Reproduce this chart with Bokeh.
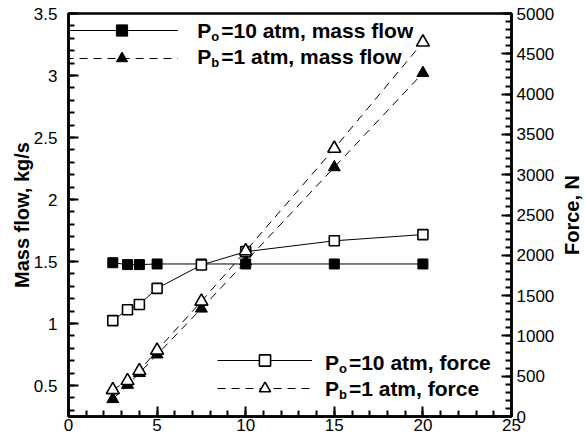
from bokeh.plotting import figure
from bokeh.models import Range1d, LinearAxis, FixedTicker, Legend, LegendItem, Label
from bokeh.layouts import row
from bokeh.embed import file_html
from bokeh.resources import INLINE
import numpy as np

# ---- data ----
ratio = [2.5, 3.33, 4.0, 5.0, 7.5, 10.0, 15.0, 20.0]
mass_po10 = [1.49, 1.475, 1.475, 1.48, 1.48, 1.48, 1.48, 1.48]
mass_pb1 = [0.39, 0.505, 0.60, 0.75, 1.12, 1.50, 2.26, 3.02]
force_po10 = [1190, 1325, 1390, 1590, 1880, 2045, 2180, 2257]
force_pb1 = [330, 443, 567, 820, 1429, 2053, 3325, 4643]

x_ticks = [0, 5, 10, 15, 20, 25]
x_tick_labels = ["0", "5", "10", "15", "20", "25"]
y_ticks = [0.5, 1, 1.5, 2, 2.5, 3, 3.5]
y_tick_labels = ["0.5", "1", "1.5", "2", "2.5", "3", "3.5"]
f_ticks = [0, 500, 1000, 1500, 2000, 2500, 3000, 3500, 4000, 4500, 5000]
f_tick_labels = ["0", "500", "1000", "1500", "2000", "2500", "3000", "3500", "4000", "4500", "5000"]

y_title = "Mass flow, kg/s"
f_title = "Force, N"
legend_top = [("o", "=10 atm, mass flow"), ("b", "=1 atm, mass flow")]
legend_bottom = [("o", "=10 atm, force"), ("b", "=1 atm, force")]

# ---- layout ----
W, H = 557, 439
W2 = 28
BL, BR, BT, BB = 68, 45, 13, 23
FW = W - BL - BR
FH = H - BT - BB
X0, X1 = 0, 25
Y0, Y1 = 0.25, 3.5
F0, F1 = 0, 5000
FONT = "Liberation Sans"

p = figure(width=W, height=H, output_backend="svg", toolbar_location=None,
           x_range=Range1d(X0, X1), y_range=Range1d(Y0, Y1),
           min_border_left=BL, min_border_right=BR,
           min_border_top=BT, min_border_bottom=BB)
p.extra_y_ranges = {"force": Range1d(F0, F1)}
p.grid.visible = False
p.outline_line_color = "black"
p.outline_line_width = 2.5
p.background_fill_color = "white"
p.border_fill_color = "white"


def style(ax, ticks, minor, labels, standoff):
    ax.ticker = FixedTicker(ticks=ticks, minor_ticks=minor)
    ax.major_label_overrides = {t: l for t, l in zip(ticks, labels)}
    ax.axis_line_width = 2.5
    ax.axis_line_color = "black"
    ax.major_tick_in = 10
    ax.major_tick_out = 0
    ax.minor_tick_in = 6
    ax.minor_tick_out = 0
    ax.major_tick_line_width = 2
    ax.minor_tick_line_width = 2
    ax.major_tick_line_color = "black"
    ax.minor_tick_line_color = "black"
    ax.major_label_text_font = FONT
    ax.major_label_text_font_size = "17px"
    ax.major_label_text_color = "black"
    ax.major_label_standoff = standoff
    ax.axis_label_text_font = FONT
    ax.axis_label_text_font_style = "bold"
    ax.axis_label_text_font_size = "20px"
    ax.axis_label_text_color = "black"


xminor = [float(v) for v in np.arange(0, 25.01, 1.0)]
yminor = [round(float(v), 2) for v in np.arange(0.3, 3.51, 0.1)]
fminor = [float(v) for v in np.arange(0, 5001, 100)]

style(p.xaxis[0], x_ticks, xminor, x_tick_labels, 2)
style(p.yaxis[0], y_ticks, yminor, y_tick_labels, 11)
p.yaxis[0].axis_label = y_title
p.yaxis[0].axis_label_standoff = -2

rax = LinearAxis(y_range_name="force")
style(rax, f_ticks, fminor, f_tick_labels, 5)
p.add_layout(rax, "right")

# ---- series ----
l1 = p.line(ratio, mass_po10, line_color="black", line_width=1)
l2 = p.line(ratio, mass_pb1, line_color="black", line_width=1, line_dash="8 6")
l3 = p.line(ratio, force_po10, line_color="black", line_width=1, y_range_name="force")
l4 = p.line(ratio, force_pb1, line_color="black", line_width=1, line_dash="8 6", y_range_name="force")
s1 = p.scatter(ratio, mass_po10, marker="square", size=10, fill_color="black", line_color="black")
s2 = p.scatter(ratio, mass_pb1, marker="triangle", size=12, fill_color="black", line_color="black")
s3 = p.scatter(ratio, force_po10, marker="square", size=10, fill_color="white", line_color="black",
               line_width=1.6, y_range_name="force")
s4 = p.scatter(ratio, force_pb1, marker="triangle", size=13, fill_color="white", line_color="black",
               line_width=1.6, y_range_name="force")


def make_legend(items, loc, gw):
    leg = Legend(items=[LegendItem(label=" ", renderers=r) for r in items],
                 location=loc, glyph_width=gw, glyph_height=28, label_height=26,
                 spacing=-2, padding=0, margin=0, label_standoff=0,
                 label_text_font_size="6px",
                 background_fill_alpha=0, border_line_alpha=0)
    p.add_layout(leg)


make_legend([[l1, s1], [l2, s2]], (-3, FH - 59), 113)
make_legend([[l3, s3], [l4, s4]], (149, 14), 95)


def xpx(px):
    return X0 + px * (X1 - X0) / FW


def ypx(px_from_top):
    return Y1 - px_from_top * (Y1 - Y0) / FH


def legend_text(xp, yp, sub, rest):
    x, y = xpx(xp), ypx(yp)
    common = dict(x=x, y=y, text_font=FONT, text_font_style="bold",
                  text_baseline="middle", text_align="left", text_color="black")
    p.add_layout(Label(text="P", text_font_size="21px", **common))
    p.add_layout(Label(text=sub, text_font_size="13px", x_offset=14, y_offset=-6, **common))
    p.add_layout(Label(text=rest, text_font_size="21px", x_offset=24, **common))


legend_text(129, 17, *legend_top[0])
legend_text(129, 43, *legend_top[1])
legend_text(257, FH - 54, *legend_bottom[0])
legend_text(257, FH - 28, *legend_bottom[1])

# ---- narrow companion figure carrying the right-hand axis title ----
p2 = figure(width=W2, height=H, output_backend="svg", toolbar_location=None,
            x_range=Range1d(0, 1), y_range=Range1d(0, 1),
            x_axis_location=None, min_border_left=0, min_border_right=0,
            min_border_top=BT, min_border_bottom=BB)
p2.grid.visible = False
p2.outline_line_color = None
p2.background_fill_color = "white"
p2.border_fill_color = "white"
ax2 = p2.yaxis[0]
ax2.ticker = FixedTicker(ticks=[])
ax2.axis_line_color = None
ax2.major_tick_line_color = None
ax2.minor_tick_line_color = None
ax2.major_label_standoff = 0
ax2.major_tick_in = 0
ax2.major_tick_out = 0
ax2.axis_label = f_title
ax2.axis_label_standoff = 0
ax2.axis_label_text_font = FONT
ax2.axis_label_text_font_style = "bold"
ax2.axis_label_text_font_size = "20px"
ax2.axis_label_text_color = "black"

layout = row(p, p2, spacing=0)
open("out.html", "w").write(file_html(layout, INLINE))
